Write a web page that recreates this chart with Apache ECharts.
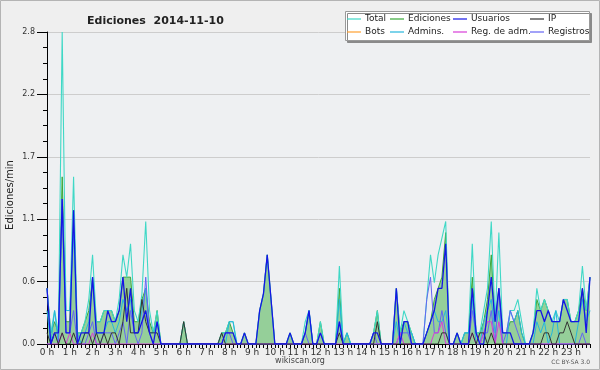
<!DOCTYPE html>
<html>
<head>
<meta charset="utf-8">
<script src="https://cdn.jsdelivr.net/npm/echarts@6/dist/echarts.min.js"></script>
<style>
html, body { margin: 0; padding: 0; background: #efefef; }
#chart { width: 600px; height: 370px; }
</style>
</head>
<body>
<div id="chart"></div>
<script>
// etiquetas del eje x (una por hora, datos cada 10 min)
var hours = ['0 h','1 h','2 h','3 h','4 h','5 h','6 h','7 h','8 h','9 h','10 h','11 h',
             '12 h','13 h','14 h','15 h','16 h','17 h','18 h','19 h','20 h','21 h','22 h','23 h'];
var yTicks = [0, 0.56, 1.12, 1.68, 2.24, 2.8];

// ediciones/min, una fila por hora (6 valores de 10 min)
var total = [
  0.5,0.1,0.3,0.1,2.8,0.3,  0.3,1.5,0.1,0.1,0.2,0.4,  0.8,0.2,0.2,0.3,0.3,0.3,  0.2,0.4,0.8,0.6,0.9,0.3,
  0.2,0.45,1.1,0.3,0.1,0.3, 0,0,0,0,0,0,              0.2,0,0,0,0,0,            0,0,0,0,0.1,0.1,
  0.2,0.2,0,0,0.1,0,        0,0,0.3,0.45,0.8,0.4,     0,0,0,0,0.1,0,            0,0,0.2,0.3,0,0,
  0.2,0,0,0,0,0.7,          0,0.1,0,0,0,0,            0,0,0.1,0.3,0,0,          0,0,0.5,0.1,0.3,0.2,
  0.1,0,0,0,0.4,0.8,        0.55,0.8,0.95,1.1,0,0,    0.1,0,0.1,0.1,0.9,0.1,    0.1,0.3,0.5,1.1,0.2,1.0,
  0.1,0.1,0.3,0.3,0.4,0.2,  0,0,0.1,0.5,0.3,0.4,      0.3,0.2,0.3,0.2,0.4,0.4,  0.2,0.2,0.3,0.7,0.3,0.6
];
var ediciones = [
  0.5,0.1,0.2,0.1,1.5,0.2,  0.2,1.2,0.1,0.1,0.2,0.3,  0.6,0.2,0.2,0.3,0.3,0.3,  0.2,0.3,0.6,0.6,0.6,0.2,
  0.2,0.4,0.5,0.2,0.1,0.3,  0,0,0,0,0,0,              0.2,0,0,0,0,0,            0,0,0,0,0.1,0.1,
  0.2,0.1,0,0,0.1,0,        0,0,0.3,0.45,0.8,0.4,     0,0,0,0,0.1,0,            0,0,0.1,0.3,0,0,
  0.2,0,0,0,0,0.5,          0,0.1,0,0,0,0,            0,0,0.1,0.3,0,0,          0,0,0.5,0.1,0.2,0.2,
  0.1,0,0,0,0.1,0.2,        0.4,0.5,0.6,1.0,0,0,      0.1,0,0.1,0.1,0.6,0.1,    0.1,0.2,0.4,0.8,0.2,0.5,
  0.1,0.1,0.2,0.2,0.3,0.1,  0,0,0.1,0.4,0.3,0.4,      0.3,0.2,0.2,0.2,0.4,0.4,  0.2,0.2,0.3,0.5,0.3,0.6
];
var usuarios = [
  0.5,0,0.1,0.1,1.3,0.1,    0.1,1.2,0,0.1,0.1,0.1,    0.6,0.1,0.1,0.1,0.3,0.2,  0.2,0.3,0.6,0.2,0.5,0.1,
  0.1,0.2,0.3,0.1,0,0.2,    0,0,0,0,0,0,              0,0,0,0,0,0,              0,0,0,0,0,0.1,
  0.1,0.1,0,0,0.1,0,        0,0,0.3,0.45,0.8,0.4,     0,0,0,0,0.1,0,            0,0,0.1,0.3,0,0,
  0.1,0,0,0,0,0.2,          0,0,0,0,0,0,              0,0,0.1,0.1,0,0,          0,0,0.5,0,0.2,0.2,
  0,0,0,0,0.1,0.2,          0.3,0.5,0.5,0.9,0,0,      0.1,0,0,0,0.5,0.1,        0,0,0.3,0.6,0.2,0.5,
  0.1,0.1,0.1,0,0,0,        0,0,0.1,0.3,0.3,0.2,      0.3,0.2,0.2,0.2,0.4,0.3,  0.2,0.2,0.2,0.5,0.1,0.6
];
var ip = [
  0.1,0,0.1,0,0.1,0,        0,0.1,0,0,0.1,0.1,        0,0.1,0,0.1,0,0.1,        0.1,0,0.2,0.5,0.1,0.1,
  0.1,0.4,0.2,0.1,0.1,0.1,  0,0,0,0,0,0,              0.2,0,0,0,0,0,            0,0,0,0,0.1,0,
  0,0,0,0,0,0,              0,0,0,0,0,0,              0,0,0,0,0,0,              0,0,0,0,0,0,
  0,0,0,0,0,0.1,            0,0,0,0,0,0,              0,0,0,0.2,0,0,            0,0,0,0,0,0,
  0,0,0,0,0,0,              0,0,0.1,0.1,0,0,          0,0,0,0,0.1,0,            0.1,0.1,0,0.1,0,0,
  0,0,0,0,0,0,              0,0,0,0,0,0.1,            0.1,0,0,0.1,0.1,0.2,      0.1,0,0,0,0,0
];
var bots = [];
var admins = [
  0.3,0,0.3,0,1.3,0.3,      0.3,1.0,0.1,0,0.1,0.2,    0.6,0.1,0.1,0.1,0.2,0.2,  0.1,0.2,0.4,0.3,0.4,0.1,
  0.1,0.3,0.5,0.1,0.1,0.2,  0,0,0,0,0,0,              0,0,0,0,0,0,              0,0,0,0,0,0,
  0.2,0.2,0,0,0,0,          0,0,0,0,0,0,              0,0,0,0,0,0,              0,0,0.1,0.3,0,0,
  0,0,0,0,0,0.4,            0,0.1,0,0,0,0,            0,0,0,0,0,0,              0,0,0.2,0,0.2,0.1,
  0.1,0,0,0,0.1,0.2,        0.3,0.2,0.2,0.3,0,0,      0,0,0.1,0.1,0.4,0,        0,0.2,0.3,0.4,0.1,0.3,
  0,0,0.3,0.2,0.3,0.1,      0,0,0,0.2,0.1,0.2,        0,0.1,0.3,0,0,0,          0,0,0.2,0.4,0.2,0.3
];
var regAdm = [
  0,0,0,0,0.1,0,            0.1,0,0,0,0,0,            0.1,0,0,0,0,0,            0,0,0,0,0,0,
  0,0,0,0,0,0,              0,0,0,0,0,0,              0,0,0,0,0,0,              0,0,0,0,0,0,
  0,0,0,0,0,0,              0,0,0,0,0,0,              0,0,0,0,0,0,              0,0,0,0,0,0,
  0,0,0,0,0,0,              0,0,0,0,0,0,              0,0,0,0,0,0,              0,0,0,0.1,0,0,
  0,0,0,0,0,0,              0.1,0.1,0.2,0,0,0,        0,0,0,0,0.1,0,            0,0.1,0.2,0.2,0,0.2,
  0,0,0,0,0,0,              0,0,0,0,0,0,              0,0,0,0,0,0,              0,0,0,0,0,0
];
var registros = [
  0,0,0.1,0,1.3,0.1,        0.1,0.3,0,0,0,0.1,        0.2,0,0,0.1,0.1,0.1,      0,0.1,0.2,0,0.3,0.1,
  0,0.1,0.6,0.1,0,0,        0,0,0,0,0,0,              0,0,0,0,0,0,              0,0,0,0,0,0.1,
  0.1,0,0,0,0,0,            0,0,0,0,0,0,              0,0,0,0,0,0,              0,0,0.1,0,0,0,
  0.1,0,0,0,0,0.2,          0,0,0,0,0,0,              0,0,0.1,0,0,0,            0,0,0,0.1,0.1,0.1,
  0,0,0,0,0.4,0.6,          0.1,0.1,0.3,0.1,0,0,      0,0,0,0,0.3,0.1,          0,0.1,0.1,0.3,0,0.5,
  0,0.1,0.3,0.2,0.1,0,      0,0,0,0,0,0,              0,0,0,0,0,0,              0,0,0,0.1,0,0
];

var cats = [];
for (var h = 0; h < 24; h++) {
    for (var s = 0; s < 6; s++) {
        cats.push(h + ':' + s + '0');
    }
}

var chart = echarts.init(document.getElementById('chart'));

function lineSerie(name, data, color, width) {
    return {
        name: name,
        type: 'line',
        data: data,
        symbol: 'none',
        silent: true,
        itemStyle: { color: color },
        lineStyle: { color: color, width: width || 1 }
    };
}

var edic = lineSerie('Ediciones', ediciones, '#3aa83a', 1);
edic.areaStyle = { color: '#8fcc94', opacity: 0.95 };

var option = {
    backgroundColor: '#efefef',
    animation: false,
    textStyle: { fontFamily: 'DejaVu Sans' },
    title: {
        text: 'Ediciones  2014-11-10',
        left: 82, top: 11,
        textStyle: { fontSize: 11, fontWeight: 'bold', color: '#222', fontFamily: 'DejaVu Sans' }
    },
    legend: [
        { left: 347, top: 13, data: ['Total', 'Bots'] },
        { left: 390, top: 13, data: ['Ediciones', 'Admins.'] },
        { left: 453, top: 13, data: ['Usuarios', 'Reg. de adm.'] },
        { left: 530, top: 13, data: ['IP', 'Registros'] }
    ].map(function (l) {
        l.orient = 'vertical';
        l.icon = 'rect';
        l.itemWidth = 14;
        l.itemHeight = 1.2;
        l.itemGap = 1;
        l.padding = 0;
        l.z = 8;
        l.selectedMode = false;
        l.textStyle = { fontSize: 9, color: '#222', lineHeight: 12, fontFamily: 'DejaVu Sans', padding: [0, 0, 0, -1] };
        return l;
    }),
    grid: { left: 47, right: 10, top: 32, bottom: 26, show: true, backgroundColor: '#eef0f2', borderWidth: 0, outerBoundsMode: 'none' },
    xAxis: {
        type: 'category',
        data: cats,
        boundaryGap: false,
        z: 3,
        axisLine: { lineStyle: { color: '#000', width: 1 } },
        axisTick: { show: true, interval: 0, length: 4, lineStyle: { color: '#000' } },
        axisLabel: {
            interval: function (i) { return i % 6 === 0; },
            formatter: function (v, i) { return hours[Math.floor(i / 6)]; },
            fontSize: 9, color: '#333', margin: 4
        },
        splitLine: { show: false }
    },
    yAxis: {
        type: 'value',
        min: 0, max: 2.8, interval: 0.56,
        z: 3,
        axisLine: { show: true, lineStyle: { color: '#000' } },
        axisTick: { show: true, length: 10, lineStyle: { color: '#000' } },
        minorTick: { show: true, splitNumber: 4, length: 4, lineStyle: { color: '#000' } },
        splitLine: { show: true, lineStyle: { color: '#cdcdcd' } },
        axisLabel: {
            formatter: function (v) { return yTicks.indexOf(Math.round(v * 100) / 100) >= 0 ? v.toFixed(1) : ''; },
            fontSize: 8, color: '#333', margin: 12
        }
    },
    graphic: [
        { type: 'rect', shape: { x: 0.5, y: 0.5, width: 599, height: 369 }, style: { fill: 'none', stroke: '#b4b4b4' }, z: 0 },
        { type: 'rect', shape: { x: 345.5, y: 11.5, width: 244, height: 29 },
          style: { fill: '#fff', stroke: '#9a9a9a', lineWidth: 1, shadowColor: '#8a8a8a', shadowOffsetX: 2, shadowOffsetY: 2, shadowBlur: 0 }, z: 6 },
        { type: 'text', x: 10, y: 195, rotation: Math.PI / 2,
          style: { text: 'Ediciones/min', font: '10px "DejaVu Sans"', fill: '#222', align: 'center', verticalAlign: 'middle' } },
        { type: 'text', x: 300, y: 361, style: { text: 'wikiscan.org', font: '8px "DejaVu Sans"', fill: '#444', align: 'center', verticalAlign: 'middle' } },
        { type: 'text', x: 590, y: 362, style: { text: 'CC BY-SA 3.0', font: '6px "DejaVu Sans"', fill: '#555', align: 'right', verticalAlign: 'middle' } }
    ],
    series: [
        edic,
        lineSerie('Total', total, '#3fd8c6', 1.1),
        lineSerie('Admins.', admins, '#25b6dc', 1),
        lineSerie('Registros', registros, '#6464f4', 1),
        lineSerie('Reg. de adm.', regAdm, '#d83cd8', 1),
        lineSerie('IP', ip, '#333333', 1),
        lineSerie('Bots', bots, '#ffa030', 1),
        lineSerie('Usuarios', usuarios, '#1515e6', 1.3)
    ]
};

chart.setOption(option);
</script>
</body>
</html>
